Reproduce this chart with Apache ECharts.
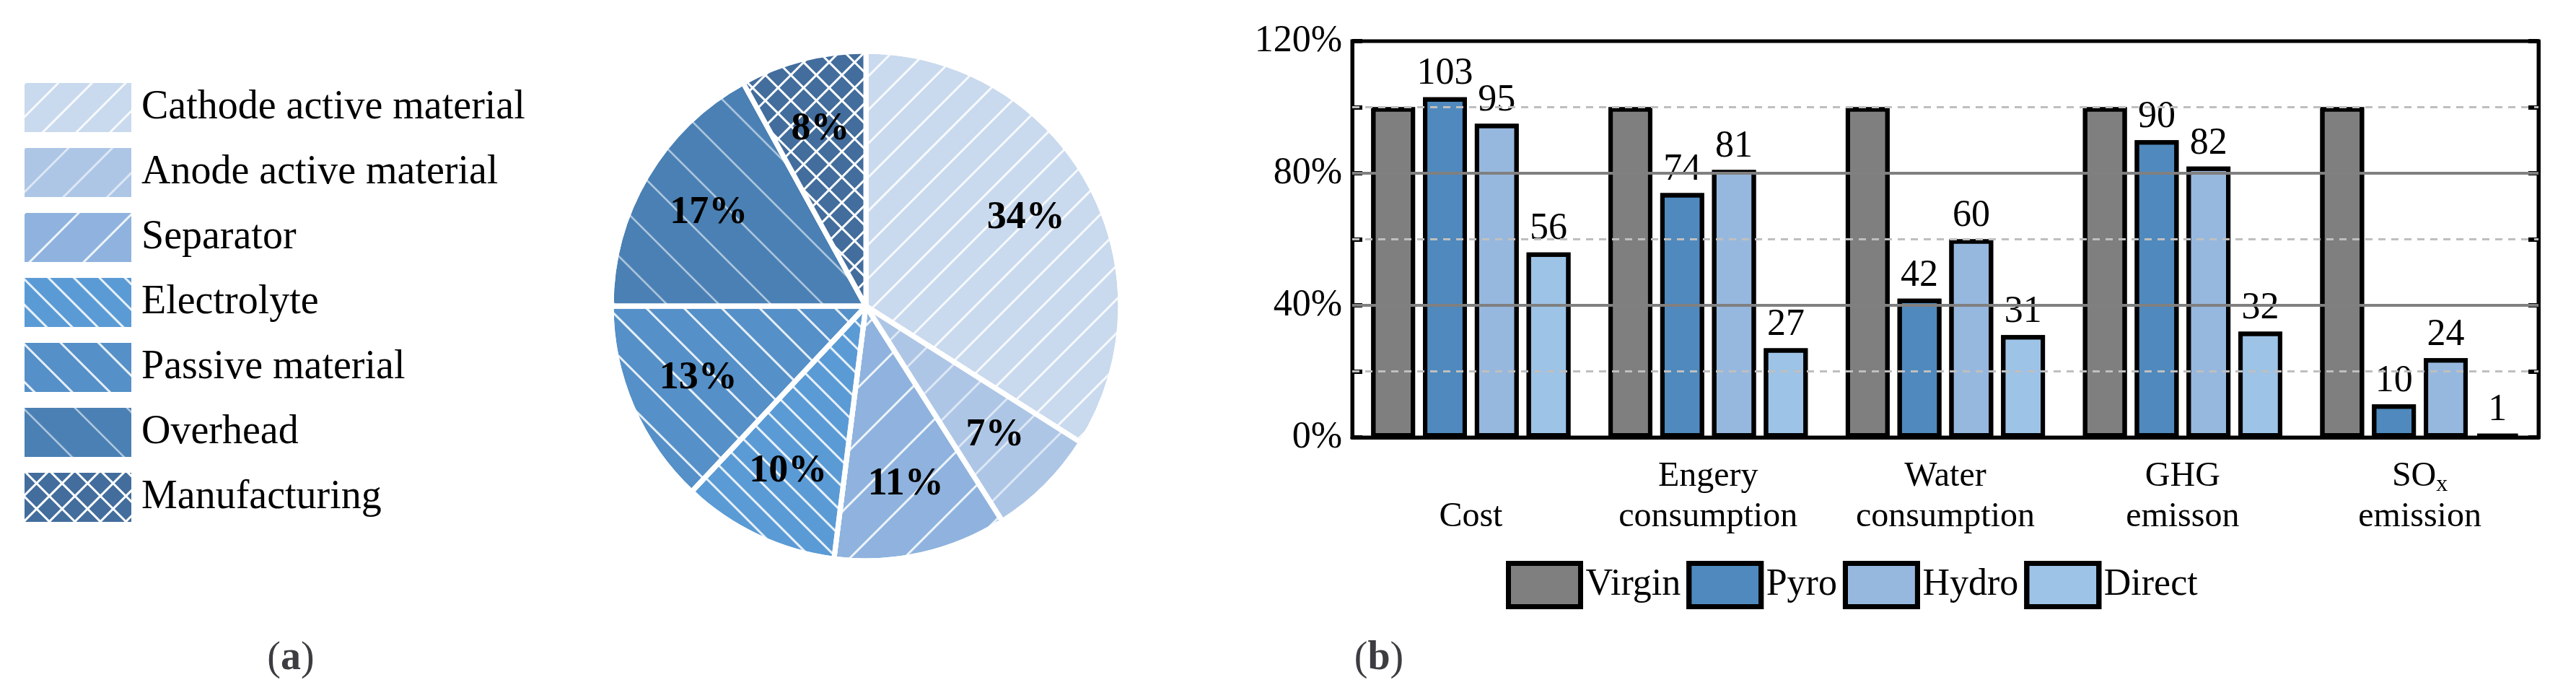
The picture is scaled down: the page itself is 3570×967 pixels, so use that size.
<!DOCTYPE html>
<html>
<head>
<meta charset="utf-8">
<script src="https://cdn.jsdelivr.net/npm/echarts@6/dist/echarts.min.js"></script>
<style>html,body{margin:0;padding:0;background:#fff}#main{width:3570px;height:967px}</style>
</head>
<body>
<div id="main"></div>
<script>
// pie (a)
var parts = ['Cathode active material', 'Anode active material', 'Separator', 'Electrolyte', 'Passive material', 'Overhead', 'Manufacturing'];
var shares = [34, 7, 11, 10, 13, 17, 8];
var partColors = ['#c9d9ee', '#aec6e6', '#8fb3de', '#5b9bd5', '#5590c8', '#4a80b4', '#426d9c'];
var hatchRot = [-Math.PI / 4, -Math.PI / 4, -Math.PI / 4, Math.PI / 4, Math.PI / 4, Math.PI / 4, 0];
var hatchGap = [30, 40, 50, 22, 34, 48, 0];

// bars (b)
var impacts = ['\nCost', 'Engery\nconsumption', 'Water\nconsumption', 'GHG\nemisson', 'SO{sub|x}\nemission'];
var methods = ['Virgin', 'Pyro', 'Hydro', 'Direct'];
var virgin = [100, 100, 100, 100, 100];
var pyro = [103, 74, 42, 90, 10];
var hydro = [95, 81, 60, 82, 24];
var direct = [56, 27, 31, 32, 1];

var font = 'Liberation Serif';

function hatch(i) {
    if (i === 6) {
        return { symbol: 'rect', color: partColors[i], backgroundColor: '#fff',
            dashArrayX: [22, 3], dashArrayY: [22, 3], rotation: Math.PI / 4, symbolSize: 1 };
    }
    return { symbol: 'rect', color: 'rgba(255,255,255,0.85)', dashArrayX: [1, 0],
        dashArrayY: [3, hatchGap[i]], rotation: hatchRot[i] };
}

var pieData = parts.map(function (p, i) {
    return { name: p, value: shares[i], itemStyle: { color: partColors[i], decal: hatch(i) } };
});
var labelData = parts.map(function (p, i) {
    return { name: p + ' ', value: shares[i] };
});

function barSeries(name, vals, color, showLabel) {
    return {
        name: name, type: 'bar', data: vals, xAxisIndex: 0, yAxisIndex: 0,
        barGap: '18%', barCategoryGap: '16%',
        itemStyle: { color: color, borderColor: '#000', borderWidth: 6, decal: { symbol: 'none' } },
        label: { show: showLabel, position: 'top', distance: 6, fontFamily: font, fontSize: 52, color: '#000' },
        labelLayout: { hideOverlap: false }
    };
}

var grid = [1, 2, 3, 4, 5].map(function (v) { return v * 20; });

var chart = echarts.init(document.getElementById('main'));
chart.setOption({
    backgroundColor: '#fff',
    aria: { decal: { show: true } },
    animation: false,
    title: [
        { text: '({b|a})', left: 398, top: 880, textAlign: 'center', textStyle: { fontFamily: font, fontSize: 56, fontWeight: 'normal', rich: { b: { fontFamily: font, fontSize: 56, fontWeight: 'bold' } } } },
        { text: '({b|b})', left: 1906, top: 880, textAlign: 'center', textStyle: { fontFamily: font, fontSize: 56, fontWeight: 'normal', rich: { b: { fontFamily: font, fontSize: 56, fontWeight: 'bold' } } } }
    ],
    legend: [{
        data: parts, orient: 'vertical', left: 27, top: 108, icon: 'rect',
        itemWidth: 150, itemHeight: 70, itemGap: 18,
        textStyle: { fontFamily: font, fontSize: 56, color: '#000', padding: [0, 0, 0, 8] }
    }, {
        data: methods.map(function (m) { return { name: m, itemStyle: { borderColor: '#000', borderWidth: 7 } }; }),
        left: 2082, top: 772, icon: 'rect',
        itemWidth: 100, itemHeight: 60, itemGap: 8,
        textStyle: { fontFamily: font, fontSize: 52, color: '#000', padding: [0, 0, 0, 2] }
    }],
    grid: { left: 1874, right: 52, top: 57, bottom: 361, show: true, borderColor: '#000', borderWidth: 5 },
    xAxis: {
        type: 'category', data: impacts,
        axisLine: { lineStyle: { color: '#000', width: 5 } }, axisTick: { show: false },
        axisLabel: { interval: 0, hideOverlap: false, fontFamily: font, fontSize: 48, color: '#000', lineHeight: 56, margin: 26,
            rich: { sub: { fontSize: 32, verticalAlign: 'bottom', padding: [20, 0, 0, 0] } } }
    },
    yAxis: [{
        type: 'value', min: 0, max: 120, interval: 20,
        axisLine: { show: true, lineStyle: { color: '#000', width: 5 } },
        axisTick: { show: true, inside: true, length: 14, lineStyle: { color: '#000', width: 6 } },
        splitLine: { show: false },
        axisLabel: { fontFamily: font, fontSize: 52, color: '#000', margin: 14,
            formatter: function (v) { return v % 40 === 0 ? v + '%' : ''; } }
    }, {
        type: 'value', min: 0, max: 120, interval: 20, position: 'right',
        axisLine: { show: true, lineStyle: { color: '#000', width: 5 } },
        axisTick: { show: true, inside: true, length: 14, lineStyle: { color: '#000', width: 6 } },
        splitLine: { show: false }, axisLabel: { show: false }
    }],
    series: [{
        type: 'pie', center: [1200, 424], radius: 353, startAngle: 90, clockwise: true,
        data: pieData, legendHoverLink: false,
        itemStyle: { borderColor: '#fff', borderWidth: 7 },
        label: { show: false }, labelLine: { show: false }
    }, {
        // transparent wider ring, only to place the percentage labels further out
        type: 'pie', center: [1200, 424], radius: 500, startAngle: 90, clockwise: true,
        data: labelData, silent: true, avoidLabelOverlap: false, z: 3,
        itemStyle: { color: 'rgba(0,0,0,0)', decal: { symbol: 'none' } },
        label: { position: 'inside', formatter: '{c}%', fontFamily: font, fontWeight: 'bold', fontSize: 54, color: '#000' },
        labelLayout: { hideOverlap: false }, labelLine: { show: false }
    },
    Object.assign(barSeries('Virgin', virgin, '#7f7f7f', false), {
        markLine: {
            silent: true, symbol: 'none', label: { show: false },
            data: grid.map(function (v) {
                return { yAxis: v, lineStyle: v % 40 === 0 ? { color: '#808080', width: 4, type: 'solid' } : { color: '#bfbfbf', width: 3, type: [10, 8] } };
            })
        }, z: 2
    }),
    barSeries('Pyro', pyro, '#4f89bd', true),
    barSeries('Hydro', hydro, '#97b8de', true),
    barSeries('Direct', direct, '#9dc3e6', true)]
});
</script>
</body>
</html>
